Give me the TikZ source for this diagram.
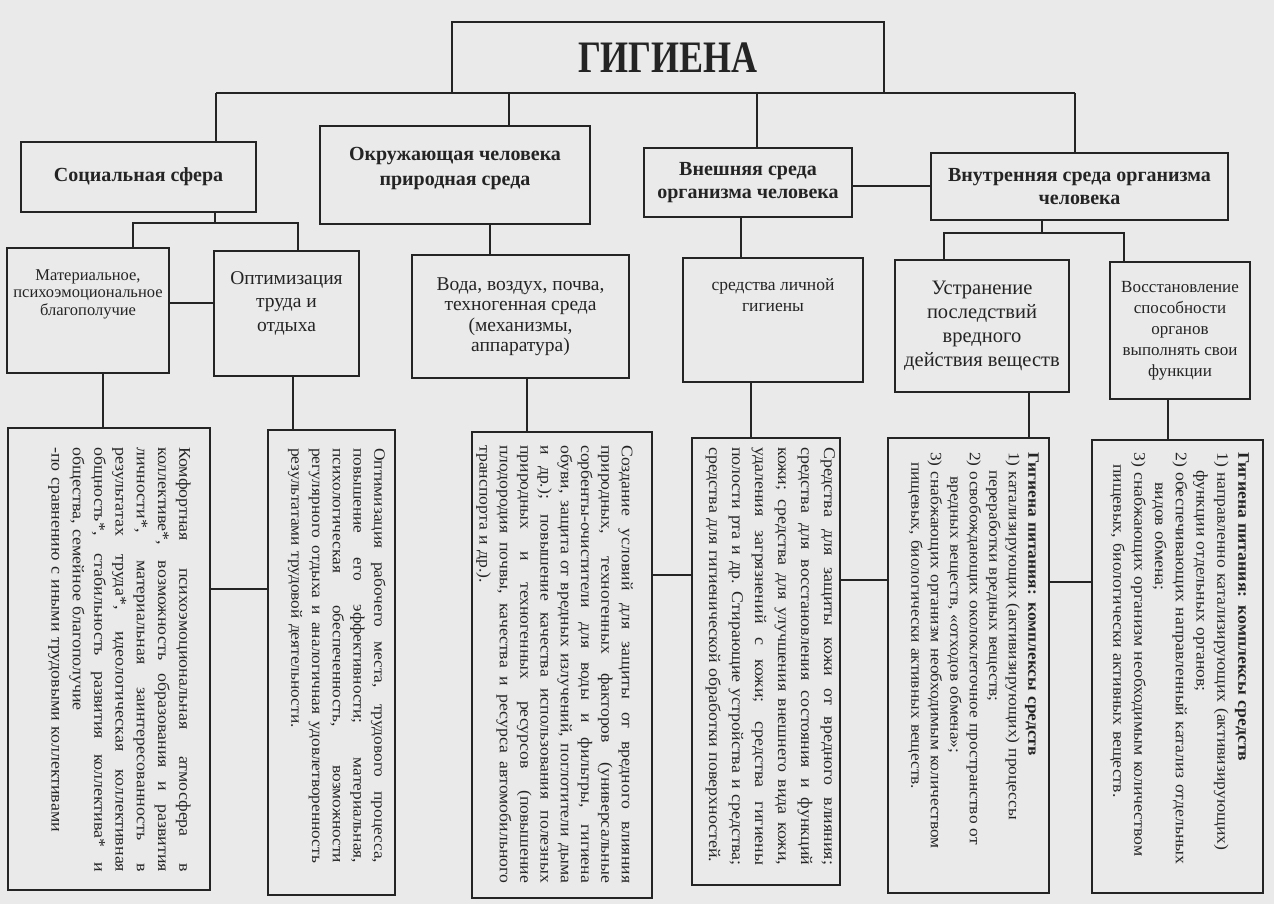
\documentclass[tikz,border=0pt]{standalone}
\usepackage{fontspec}
\setmainfont{Liberation Serif}
\newfontfamily\titlef{Liberation Serif}[FakeStretch=0.8]
\newfontfamily\widef{Liberation Serif}[FakeStretch=1.1]
\usetikzlibrary{calc}
\definecolor{paper}{HTML}{EAEAEA}
\definecolor{ink}{HTML}{242424}
\newlength\jw
\newcommand{\jl}[1]{\leavevmode\hbox to \jw{\spaceskip=0.25em plus 1fil\relax #1}}
\begin{document}
\begin{tikzpicture}[x=1pt,y=-1pt,
  box/.style={draw=ink, line width=1.4pt, fill=paper, inner sep=2pt, align=center, text=ink},
  lbl/.style={inner sep=0pt, align=center, text=ink},
  conn/.style={draw=ink, line width=1.4pt},
  btext/.style={rotate=-90, anchor=north west, inner sep=0pt, align=left, text=ink}
]
\fill[paper] (0,0) rectangle (1274,904);
\useasboundingbox (0,0) rectangle (1274,904);
\clip (0,0) rectangle (1274,904);

% ---- title
\node[box, minimum width=432pt, minimum height=71pt, font=\titlef\bfseries\fontsize{45}{48}\selectfont] (title) at (668,57.5) {ГИГИЕНА};

% ---- level 1
\node[box, minimum width=235pt, minimum height=70pt, font=\bfseries\fontsize{20}{23}\selectfont] (soc) at (138.5,177) {Социальная сфера};
\node[box, minimum width=270pt, minimum height=98pt] (env) at (455,175) {};
\node[lbl, font=\bfseries\fontsize{20}{25}\selectfont] (envT) at (455,169) {Окружающая человека\\природная среда};
\node[box, minimum width=208pt, minimum height=69pt, font=\bfseries\fontsize{20}{23}\selectfont] (ext) at (748,182.5) {Внешняя среда\\организма человека};
\node[box, minimum width=297pt, minimum height=67pt, font=\bfseries\fontsize{20}{23}\selectfont] (int) at (1079.5,186.5) {Внутренняя среда организма\\человека};

% ---- level 2
\node[box, minimum width=162pt, minimum height=125pt] (mat) at (88,310.5) {};
\node[lbl, font=\fontsize{16.5}{17.5}\selectfont] (matT) at (88,294) {Материальное,\\психоэмоциональное\\благополучие};
\node[box, minimum width=145pt, minimum height=125pt] (opt) at (286.5,313.5) {};
\node[lbl, font=\fontsize{19.5}{23.5}\selectfont] (optT) at (286.5,303) {Оптимизация\\труда и\\отдыха};
\node[box, minimum width=217pt, minimum height=123pt, font=\fontsize{19.5}{20.5}\selectfont] (voda) at (520.5,316.5) {Вода, воздух, почва,\\техногенная среда\\(механизмы,\\аппаратура)};
\node[box, minimum width=180pt, minimum height=124pt] (lich) at (773,320) {};
\node[lbl, font=\fontsize{17.5}{20.5}\selectfont] (lichT) at (773,295) {средства личной\\гигиены};
\node[box, minimum width=174pt, minimum height=132pt, font=\fontsize{20.5}{24}\selectfont] (ustr) at (982,326) {Устранение\\последствий\\вредного\\действия веществ};
\node[box, minimum width=140pt, minimum height=137pt, font=\fontsize{17}{21}\selectfont] (vos) at (1180,330.5) {Восстановление\\способности\\органов\\выполнять свои\\функции};

% ---- level 3 boxes
\node[box, minimum width=202pt, minimum height=462pt] (b1) at (109,659) {};
\node[box, minimum width=127pt, minimum height=465pt] (b2) at (331.5,662.5) {};
\node[box, minimum width=180pt, minimum height=466pt] (b3) at (562,665) {};
\node[box, minimum width=148pt, minimum height=447pt] (b4) at (766,661.5) {};
\node[box, minimum width=161pt, minimum height=455pt] (b5) at (968.5,665.5) {};
\node[box, minimum width=171pt, minimum height=453pt] (b6) at (1177.5,666.5) {};

% ---- rotated texts
\node[btext, text width=425pt, font=\widef\fontsize{16.3}{21.3}\selectfont] (t1) at (191,447) {\setlength{\jw}{425pt}%
\jl{Комфортная психоэмоциональная атмосфера в}\\
\jl{коллективе*, возможность образования и развития}\\
\jl{личности*, материальная заинтересованность в}\\
\jl{результатах труда*, идеологическая коллективная}\\
\jl{общность*, стабильность развития коллектива* и}\\
общества, семейное благополучие\\
*-по сравнению с иными трудовыми коллективами};

\node[btext, text width=415pt, font=\widef\fontsize{15.8}{20.75}\selectfont] (t2) at (386,448) {\setlength{\jw}{415pt}%
\jl{Оптимизация рабочего места, трудового процесса,}\\
\jl{повышение его эффективности; материальная,}\\
\jl{психологическая обеспеченность, возможности}\\
\jl{регулярного отдыха и аналогичная удовлетворенность}\\
результатами трудовой деятельности.};

\node[btext, text width=438pt, font=\widef\fontsize{16.1}{20.3}\selectfont] (t3) at (633,445) {\setlength{\jw}{438pt}%
\jl{Создание условий для защиты от вредного влияния}\\
\jl{природных, техногенных факторов (универсальные}\\
\jl{сорбенты-очистители для воды и фильтры, гигиена}\\
\jl{обуви, защита от вредных излучений, поглотители дыма}\\
\jl{и др.); повышение качества использования полезных}\\
\jl{природных и техногенных ресурсов (повышение}\\
\jl{плодородия почвы, качества и ресурса автомобильного}\\
транспорта и др.).};

\node[btext, text width=418pt, font=\widef\fontsize{16.3}{23}\selectfont] (t4) at (835,447) {\setlength{\jw}{418pt}%
\jl{Средства для защиты кожи от вредного влияния;}\\
\jl{средства для восстановления состояния и функций}\\
\jl{кожи; средства для улучшения внешнего вида кожи,}\\
\jl{удаления загрязнений с кожи; средства гигиены}\\
\jl{полости рта и др. Стирающие устройства и средства;}\\
средства для гигиенической обработки поверхностей.};

\node[btext, text width=420pt, font=\widef\fontsize{15.8}{19.5}\selectfont] (t5) at (1039,452) {%
\textbf{Гигиена питания: комплексы средств}\\
1) катализирующих (активизирующих) процессы\\
\hspace*{18pt}переработки вредных веществ;\\
2) освобождающих околоклеточное пространство от\\
\hspace*{24pt}вредных веществ, «отходов обмена»;\\
3) снабжающих организм необходимым количеством\\
\hspace*{10pt}пищевых, биологически активных веществ.};

\node[btext, text width=420pt, font=\widef\fontsize{16.1}{20.8}\selectfont] (t6) at (1249,452) {%
\textbf{Гигиена питания: комплексы средств}\\
1) направленно катализирующих (активизирующих)\\
\hspace*{18pt}функции отдельных органов;\\
2) обеспечивающих направленный катализ отдельных\\
\hspace*{30pt}видов обмена;\\
3) снабжающих организм необходимым количеством\\
\hspace*{12pt}пищевых, биологически активных веществ.};

% ---- connectors
\coordinate (barL) at (216,93);
\coordinate (barR) at (1075,93);
\coordinate (e1) at (509,93);
\coordinate (e2) at (757,93);
\draw[conn] (barL) -- (barR);
\draw[conn] (barL) -- (barL |- soc.north);
\draw[conn] (e1) -- (e1 |- env.north);
\draw[conn] (e2) -- (e2 |- ext.north);
\draw[conn] (barR) -- (barR |- int.north);

\coordinate (s1) at (215,223);
\coordinate (s2) at (133,223);
\coordinate (s3) at (298,223);
\draw[conn] (s1 |- soc.south) -- (s1);
\draw[conn] (s2 |- mat.north) -- (s2) -- (s3) -- (s3 |- opt.north);
\coordinate (mo) at (0,303);
\draw[conn] (mat.east |- mo) -- (opt.west |- mo);

\coordinate (ev) at (490,0);
\draw[conn] (ev |- env.south) -- (ev |- voda.north);
\coordinate (ei) at (0,186);
\draw[conn] (ext.east |- ei) -- (int.west |- ei);
\coordinate (el) at (741,0);
\draw[conn] (el |- ext.south) -- (el |- lich.north);

\coordinate (i1) at (1042,233);
\coordinate (i2) at (944,233);
\coordinate (i3) at (1124,233);
\draw[conn] (i1 |- int.south) -- (i1);
\draw[conn] (i2 |- ustr.north) -- (i2) -- (i3) -- (i3 |- vos.north);

\coordinate (d1) at (103,0);
\coordinate (d2) at (293,0);
\coordinate (d3) at (527,0);
\coordinate (d4) at (751,0);
\coordinate (d5) at (1029,0);
\coordinate (d6) at (1168,0);
\draw[conn] (d1 |- mat.south) -- (d1 |- b1.north);
\draw[conn] (d2 |- opt.south) -- (d2 |- b2.north);
\draw[conn] (d3 |- voda.south) -- (d3 |- b3.north);
\draw[conn] (d4 |- lich.south) -- (d4 |- b4.north);
\draw[conn] (d5 |- ustr.south) -- (d5 |- b5.north);
\draw[conn] (d6 |- vos.south) -- (d6 |- b6.north);

\coordinate (h12) at (0,589);
\coordinate (h34) at (0,575);
\coordinate (h45) at (0,580);
\coordinate (h56) at (0,582);
\draw[conn] (b1.east |- h12) -- (b2.west |- h12);
\draw[conn] (b3.east |- h34) -- (b4.west |- h34);
\draw[conn] (b4.east |- h45) -- (b5.west |- h45);
\draw[conn] (b5.east |- h56) -- (b6.west |- h56);
\end{tikzpicture}
\end{document}
